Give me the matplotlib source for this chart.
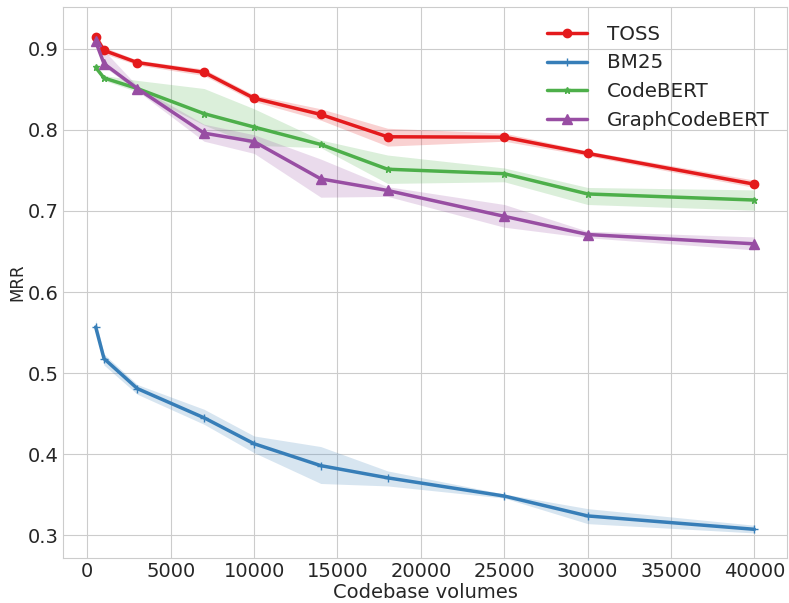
import matplotlib
matplotlib.use('Agg')
import matplotlib.pyplot as plt
import seaborn as sns

# Codebase volumes
volumes = [500, 1000, 3000, 7000, 10000, 14000, 18000, 25000, 30000, 40000]

# MRR per method (mean, lower and upper bound of the shaded band)
toss = [0.915, 0.898, 0.883, 0.871, 0.839, 0.819, 0.7915, 0.791, 0.771, 0.733]
toss_lo = [0.909, 0.894, 0.880, 0.867, 0.835, 0.812, 0.780, 0.786, 0.768, 0.729]
toss_hi = [0.921, 0.902, 0.886, 0.875, 0.843, 0.826, 0.802, 0.796, 0.774, 0.738]

bm25 = [0.557, 0.518, 0.481, 0.445, 0.413, 0.386, 0.371, 0.3485, 0.324, 0.3075]
bm25_lo = [0.553, 0.510, 0.474, 0.437, 0.402, 0.364, 0.361, 0.346, 0.3145, 0.303]
bm25_hi = [0.566, 0.5235, 0.486, 0.4555, 0.4226, 0.4095, 0.3795, 0.351, 0.333, 0.3125]

codebert = [0.877, 0.864, 0.851, 0.820, 0.8035, 0.782, 0.7515, 0.746, 0.721, 0.7135]
codebert_lo = [0.875, 0.861, 0.847, 0.806, 0.781, 0.778, 0.734, 0.736, 0.708, 0.701]
codebert_hi = [0.879, 0.867, 0.861, 0.851, 0.826, 0.7875, 0.769, 0.753, 0.729, 0.726]

graphcodebert = [0.909, 0.8816, 0.851, 0.796, 0.7855, 0.7396, 0.7253, 0.6934, 0.671, 0.6595]
graphcodebert_lo = [0.905, 0.878, 0.848, 0.786, 0.771, 0.717, 0.718, 0.680, 0.667, 0.652]
graphcodebert_hi = [0.913, 0.898, 0.854, 0.807, 0.794, 0.764, 0.730, 0.708, 0.675, 0.668]

sns.set_style('whitegrid')
plt.rcParams['font.family'] = ['DejaVu Sans']

fig = plt.figure(figsize=(7.89, 6.03), dpi=100)
ax = fig.add_axes([0.0795, 0.0746, 0.9184, 0.9143])

series = [
    ('TOSS', toss, toss_lo, toss_hi, '#e41a1c', 'o', 6),
    ('BM25', bm25, bm25_lo, bm25_hi, '#377eb8', '+', 6),
    ('CodeBERT', codebert, codebert_lo, codebert_hi, '#4daf4a', '*', 5),
    ('GraphCodeBERT', graphcodebert, graphcodebert_lo, graphcodebert_hi, '#984ea3', '^', 7),
]

for name, mean, lo, hi, color, marker, ms in series:
    ax.fill_between(volumes, lo, hi, color=color, alpha=0.2, linewidth=0)
    ax.plot(volumes, mean, color=color, marker=marker, markersize=ms,
            linewidth=2.5, label=name)

ax.set_xlabel('Codebase volumes', fontsize=14, labelpad=1)
ax.set_ylabel('MRR', fontsize=12, labelpad=1)
ax.tick_params(labelsize=14, length=0, pad=3)
ax.set_xticks(range(0, 40001, 5000))
ax.legend(loc='upper right', frameon=False, fontsize=14.3, handletextpad=1.0)

fig.savefig('out.png', dpi=100)
